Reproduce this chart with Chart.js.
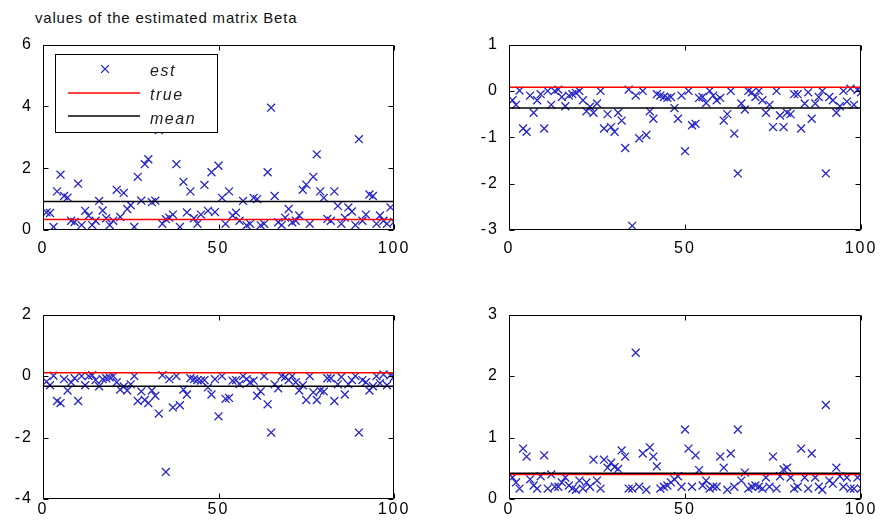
<!DOCTYPE html>
<html><head><meta charset="utf-8">
<script src="https://cdn.jsdelivr.net/npm/chart.js@4"></script>
<style>
html,body{margin:0;padding:0;background:#fff;width:885px;height:531px;overflow:hidden;position:relative}
canvas{position:absolute}
#title{position:absolute;left:35px;top:9px;font:15px "Liberation Sans",Arial,sans-serif;line-height:17px;letter-spacing:0.8px;color:#111;white-space:nowrap}
</style></head><body>
<div id="title">values of the estimated matrix Beta</div>
<canvas id="c1"></canvas><canvas id="c2"></canvas><canvas id="c3"></canvas><canvas id="c4"></canvas>
<script>
// ---------- data ----------
const sampleIndex = Array.from({length: 100}, (_, i) => i + 1);
const xTicks = [0, 50, 100];
const legendLabels = ['est', 'true', 'mean'];

const beta11 = [0.57,0.55,0.1,1.25,1.79,1.1,1.05,0.3,0.26,1.5,
  0.16,0.62,0.46,0.16,0.3,0.94,0.63,0.38,0.16,0.3,
  1.3,0.42,1.2,0.68,0.8,0.1,1.72,0.95,2.13,2.29,
  0.9,0.95,3.23,0.2,0.35,0.4,0.5,2.13,0.1,1.56,
  0.57,1.25,0.38,0.2,0.5,1.46,0.62,1.87,0.58,2.08,
  1.04,0.2,1.25,0.47,0.56,0.3,0.94,0.15,0.2,1.04,
  1.0,0.15,0.2,1.87,3.96,1.1,0.25,0.16,0.4,0.68,
  0.25,0.3,0.47,1.3,1.47,0.2,1.72,2.45,1.25,1.04,
  0.36,0.3,1.25,0.78,0.2,0.4,0.73,0.6,0.16,2.94,
  0.3,0.5,1.15,1.1,0.2,0.47,0.3,0.2,0.73,0.26];
const beta12 = [-0.2,-0.3,0.01,-0.81,-0.88,-0.1,-0.47,-0.2,-0.07,-0.81,
  0.0,-0.3,0.0,0.03,-0.13,-0.33,-0.1,-0.07,-0.04,0.0,
  -0.2,-0.44,-0.34,-0.47,-0.27,0.0,-0.81,-0.5,-0.78,-0.88,
  -0.47,-0.64,-1.23,0.03,-2.91,-0.1,-1.02,0.0,-0.95,-0.44,
  -0.6,-0.07,-0.1,-0.13,-0.15,-0.13,-0.37,-0.6,-0.1,-1.3,
  0.0,-0.74,-0.71,-0.15,-0.13,-0.26,0.0,-0.1,-0.2,-0.15,
  -0.64,-0.5,0.0,-0.92,-1.78,-0.27,-0.4,0.0,-0.03,-0.13,
  0.0,-0.2,-0.47,-0.3,-0.78,0.0,-0.53,-0.78,-0.47,-0.5,
  -0.07,-0.07,-0.81,-0.27,-0.03,-0.6,-0.27,-0.13,0.0,-1.78,
  -0.13,-0.2,-0.47,-0.33,0.0,-0.23,0.05,-0.3,0.02,-0.03];
const beta21 = [-0.18,-0.3,0.01,-0.81,-0.88,-0.1,-0.47,-0.2,-0.07,-0.81,
  0.0,-0.3,0.0,0.03,-0.13,-0.33,-0.1,-0.07,-0.04,0.0,
  -0.2,-0.44,-0.34,-0.47,-0.27,0.0,-0.81,-0.5,-0.78,-0.88,
  -0.47,-0.64,-1.22,0.03,-3.12,-0.1,-1.02,0.0,-0.95,-0.44,
  -0.6,-0.07,-0.1,-0.13,-0.15,-0.13,-0.37,-0.6,-0.1,-1.31,
  0.0,-0.74,-0.71,-0.15,-0.13,-0.26,0.0,-0.1,-0.2,-0.15,
  -0.64,-0.5,0.0,-0.92,-1.84,-0.27,-0.4,0.0,-0.03,-0.13,
  0.0,-0.2,-0.47,-0.3,-0.78,0.0,-0.53,-0.78,-0.47,-0.5,
  -0.07,-0.07,-0.81,-0.27,-0.03,-0.6,-0.27,-0.13,0.0,-1.84,
  -0.13,-0.2,-0.47,-0.33,0.0,-0.23,0.05,-0.3,0.02,-0.03];
const beta22 = [0.35,0.27,0.17,0.82,0.69,0.32,0.22,0.17,0.37,0.71,
  0.17,0.4,0.2,0.2,0.27,0.35,0.22,0.17,0.15,0.3,
  0.17,0.27,0.2,0.64,0.3,0.17,0.64,0.51,0.59,0.52,
  0.49,0.79,0.69,0.17,0.17,2.38,0.2,0.74,0.15,0.84,
  0.69,0.53,0.17,0.2,0.22,0.27,0.32,0.37,0.2,1.13,
  0.82,0.2,0.71,0.47,0.22,0.3,0.17,0.2,0.2,0.69,
  0.51,0.15,0.74,0.2,1.13,0.3,0.43,0.17,0.2,0.22,
  0.2,0.17,0.35,0.2,0.69,0.17,0.37,0.48,0.51,0.35,
  0.17,0.2,0.82,0.35,0.17,0.74,0.35,0.2,0.15,1.53,
  0.3,0.25,0.51,0.37,0.2,0.35,0.17,0.17,0.35,0.17];
const trueValues = [0.34, 0.08, 0.11, 0.40];
const meanValues = [0.92, -0.37, -0.33, 0.42];
const yTicks11 = [0, 2, 4, 6];
const yTicks12 = [-3, -2, -1, 0, 1];
const yTicks21 = [-4, -2, 0, 2];
const yTicks22 = [0, 1, 2, 3];

// ---------- layout ----------
const padL = 43, padT = 12, padR = 32, padB = 32;
const panels = [
  {id:'c1', L:43,  T:37,  R:394, B:230, est:beta11, k:0, yMin:0,  yMax:6, yTicks:yTicks11, legend:true,  xPad:9},
  {id:'c2', L:509, T:37,  R:861, B:230, est:beta12, k:1, yMin:-3, yMax:1, yTicks:yTicks12, legend:false, xPad:9},
  {id:'c3', L:43,  T:307, R:394, B:499, est:beta21, k:2, yMin:-4, yMax:2, yTicks:yTicks21, legend:false, xPad:1},
  {id:'c4', L:509, T:307, R:861, B:499, est:beta22, k:3, yMin:0,  yMax:3, yTicks:yTicks22, legend:false, xPad:1}
];

const FONT = "'Liberation Sans', Arial, sans-serif";
const BLUE = '#2424c8';
const RED = '#ff0000';

const spacingPlugin = {
  id: 'spacing',
  beforeLayout(c) { c.ctx.letterSpacing = '2px'; },
  beforeDraw(c) { c.ctx.letterSpacing = '2px'; }
};

const framePlugin = {
  id: 'frame',
  afterDatasetsDraw(chart) {
    const {ctx, chartArea: a, scales: {x, y}} = chart;
    const l = Math.round(a.left) + 0.5, r = Math.round(a.right) - 0.5;
    const t = Math.round(a.top) + 0.5, b = Math.round(a.bottom) - 0.5;
    ctx.save();
    ctx.strokeStyle = '#000';
    ctx.lineWidth = 1;
    ctx.beginPath();
    ctx.rect(l, t, r - l, b - t);
    x.ticks.forEach(tk => {
      const px = Math.round(x.getPixelForValue(tk.value)) + 0.5;
      ctx.moveTo(px, b); ctx.lineTo(px, b - 5);
      ctx.moveTo(px, t); ctx.lineTo(px, t + 5);
    });
    y.ticks.forEach(tk => {
      const py = Math.round(y.getPixelForValue(tk.value)) + 0.5;
      ctx.moveTo(l, py); ctx.lineTo(l + 5, py);
      ctx.moveTo(r, py); ctx.lineTo(r - 5, py);
    });
    ctx.stroke();
    ctx.restore();
  }
};

const legendPlugin = {
  id: 'boxLegend',
  afterDatasetsDraw(chart, args, opts) {
    if (!opts || !opts.show) return;
    const ctx = chart.ctx, a = chart.chartArea;
    const x0 = Math.round(a.left) + 12, y0 = Math.round(a.top) + 9, w = 162, h = 78;
    ctx.save();
    ctx.fillStyle = '#fff';
    ctx.fillRect(x0, y0, w, h);
    ctx.strokeStyle = '#000';
    ctx.lineWidth = 1;
    ctx.strokeRect(x0 + 0.5, y0 + 0.5, w, h);
    const rows = [15, 39, 62];
    const base = [22, 46, 70];
    ctx.font = 'italic 16px ' + FONT;
    ctx.letterSpacing = '1.5px';
    ctx.textBaseline = 'alphabetic';
    ctx.textAlign = 'left';
    chart.data.datasets.forEach((ds, i) => {
      const cy = y0 + rows[i];
      ctx.strokeStyle = ds.borderColor;
      ctx.beginPath();
      if (ds.showLine === false) {
        ctx.lineWidth = 1.3;
        const cx = x0 + 50, d = 3.9;
        ctx.moveTo(cx - d, cy - d); ctx.lineTo(cx + d, cy + d);
        ctx.moveTo(cx - d, cy + d); ctx.lineTo(cx + d, cy - d);
      } else {
        ctx.lineWidth = 1.5;
        ctx.moveTo(x0 + 13, cy); ctx.lineTo(x0 + 85, cy);
      }
      ctx.stroke();
      ctx.fillStyle = '#222';
      ctx.fillText(ds.label, x0 + 95, y0 + base[i]);
    });
    ctx.restore();
  }
};

const xMin = xTicks[0], xMax = xTicks[xTicks.length - 1];

panels.forEach(p => {
  const cv = document.getElementById(p.id);
  const W = p.R - p.L + padL + padR, H = p.B - p.T + padT + padB;
  cv.width = W; cv.height = H;
  cv.style.width = W + 'px'; cv.style.height = H + 'px';
  cv.style.left = (p.L - padL) + 'px'; cv.style.top = (p.T - padT) + 'px';
  const tv = trueValues[p.k], mv = meanValues[p.k];
  new Chart(cv, {
    type: 'scatter',
    data: {
      datasets: [
        {label: legendLabels[0], data: sampleIndex.map((xi, i) => ({x: xi, y: p.est[i]})),
         showLine: false, pointStyle: 'crossRot', pointRadius: 5.6, pointBorderWidth: 1.3,
         borderColor: BLUE, backgroundColor: BLUE, order: 2},
        {label: legendLabels[1], type: 'line', data: [{x: xMin, y: tv}, {x: xMax, y: tv}],
         borderColor: RED, borderWidth: 1.5, pointRadius: 0, fill: false, order: 1},
        {label: legendLabels[2], type: 'line', data: [{x: xMin, y: mv}, {x: xMax, y: mv}],
         borderColor: '#000', borderWidth: 1.5, pointRadius: 0, fill: false, order: 0}
      ]
    },
    options: {
      responsive: false, animation: false, devicePixelRatio: 1,
      layout: {padding: {left: 0, top: padT, right: padR, bottom: 0}},
      plugins: {legend: {display: false}, tooltip: {enabled: false}, boxLegend: {show: p.legend}},
      scales: {
        x: {type: 'linear', min: xMin, max: xMax,
            afterFit(s) { s.height = padB; },
            afterBuildTicks(s) { s.ticks = xTicks.map(v => ({value: v})); },
            grid: {display: false, drawTicks: false}, border: {display: false},
            ticks: {padding: p.xPad, color: '#000', maxRotation: 0, autoSkip: false, font: {family: FONT, size: 16}}},
        y: {type: 'linear', min: p.yMin, max: p.yMax,
            afterFit(s) { s.width = padL; },
            afterBuildTicks(s) { s.ticks = p.yTicks.map(v => ({value: v})); },
            grid: {display: false, drawTicks: false}, border: {display: false},
            ticks: {padding: 10, color: '#000', autoSkip: false, font: {family: FONT, size: 16}}}
      }
    },
    plugins: [spacingPlugin, framePlugin, legendPlugin]
  });
});
</script>
</body></html>
